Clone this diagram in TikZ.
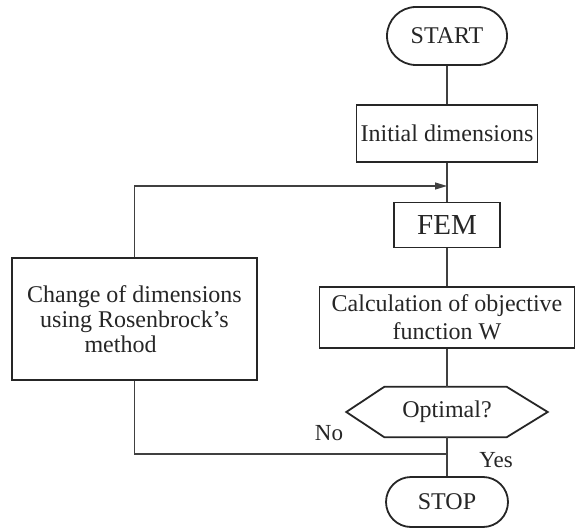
\documentclass[tikz,border=0pt]{standalone}
\usepackage{fontspec}
\setmainfont{Liberation Serif}
\usetikzlibrary{arrows.meta}
\begin{document}
\begin{tikzpicture}[x=1pt,y=-1pt,
  box/.style={draw=black!85, line width=1.8pt, inner sep=0pt, align=center, text=black!85, font=\fontsize{24}{28}\selectfont},
  term/.style={box},
  hexline/.style={draw=black!85, line width=1.8pt},
  conn/.style={draw=black!75, line width=1.1pt},
  lbl/.style={inner sep=0pt, text=black!85, font=\fontsize{23}{26}\selectfont},
]
\useasboundingbox[fill=white] (0,0) rectangle (575,529);

\node[term, minimum width=120pt, minimum height=58pt, rounded corners=29pt] (start) at (447,36) {START};
\node[box, minimum width=181pt, minimum height=57pt] (init) at (447,133.5) {Initial dimensions};
\node[box, minimum width=106pt, minimum height=45pt, font=\fontsize{29}{32}\selectfont] (fem) at (447,225) {FEM};
\node[box, minimum width=255pt, minimum height=61pt] (calc) at (447,317.5) {Calculation of objective\\function W};
\node[inner sep=0pt, minimum width=201pt, minimum height=50pt, text=black!85, font=\fontsize{24}{28}\selectfont] (opt) at (447,412) {Optimal?};
\node[term, minimum width=122pt, minimum height=50pt, rounded corners=25pt] (stop) at (447,502) {STOP};
\node[box, minimum width=245pt, minimum height=122pt, font=\fontsize{24}{25}\selectfont] (chg) at (134.5,319) {Change of dimensions\\using Rosenbrock’s\\method\hspace*{28pt}};

\draw[hexline] ([xshift=38pt]opt.north west) -- ([xshift=-41pt]opt.north east) -- (opt.east)
  -- ([xshift=-41pt]opt.south east) -- ([xshift=38pt]opt.south west) -- (opt.west) -- cycle;

\coordinate (j1) at (447,186);
\coordinate (j2) at (447,454);

\draw[conn] (start) -- (init);
\draw[conn] (init) -- (fem);
\draw[conn] (fem) -- (calc);
\draw[conn] (calc) -- (opt);
\draw[conn] (opt) -- (stop);
\draw[conn, -{Triangle[length=12pt,width=7pt]}] (chg.north) |- (j1);
\draw[conn] (j2) -| (chg.south);

\node[lbl] (no) at (329,433) {No};
\node[lbl] (yes) at (496,460) {Yes};
\end{tikzpicture}
\end{document}
